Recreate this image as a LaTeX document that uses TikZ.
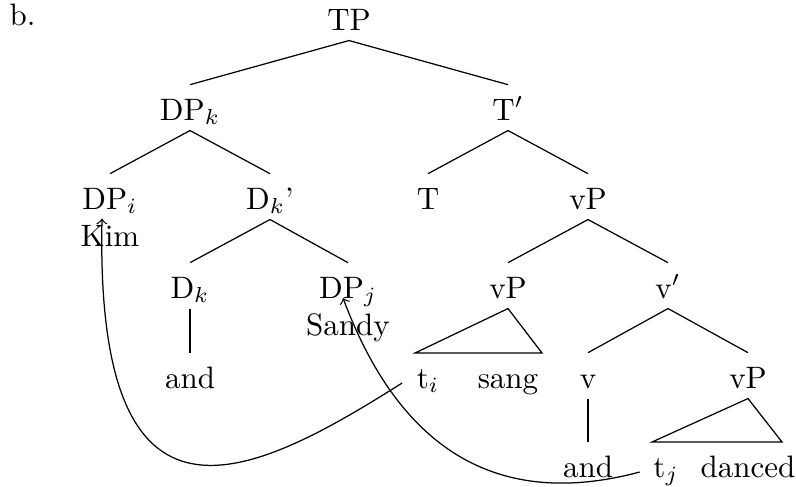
\documentclass[tikz,border=0pt]{standalone}
\usetikzlibrary{calc}
\begin{document}
\begin{tikzpicture}[x=0.3226pt,y=-0.3226pt,
  lab/.style={anchor=base, inner xsep=1pt, inner ysep=3.2pt, text height=8pt, text depth=0pt},
  plain/.style={anchor=base, inner sep=1pt},
  mv/.style={->, line width=0.4pt}]
\useasboundingbox (0,0) rectangle (796,486);
% labels
\node[plain, anchor=base west] (b) at (6,25) {b.};
\node[lab] (TP) at (349,30) {TP};
\node[lab] (DPk) at (190,120) {DP$_k$};
\node[lab] (Tb) at (508,120) {T$'$};
\node[lab] (DPi) at (110,209) {DP$_i$};
\node[plain] (Kim) at (110,246) {Kim};
\node[lab] (Dkb) at (270,209) {D$_k$'};
\node[lab] (T) at (428,209) {T};
\node[lab] (vPa) at (588,209) {vP};
\node[lab] (Dk) at (190,298) {D$_k$};
\node[lab] (DPj) at (348,298) {DP$_j$};
\node[plain] (Sandy) at (348,335) {Sandy};
\node[lab] (vPb) at (508,298) {vP};
\node[lab] (vb) at (668,298) {v$'$};
\node[lab] (and1) at (190,388) {and};
\node[lab] (ti) at (428,388) {t$_i$};
\node[lab] (sang) at (508,388) {sang};
\node[lab] (v) at (588,388) {v};
\node[lab] (vPc) at (748,388) {vP};
\node[lab] (and2) at (588,477) {and};
\node[lab] (tj) at (666,477) {t$_j$};
\node[lab] (danced) at (748,477) {danced};
% roof corners
\coordinate (r1l) at (415,353);
\coordinate (r1r) at (542,353);
\coordinate (r2l) at (652,442);
\coordinate (r2r) at (782,442);
% edges
\draw (TP.south) -- (DPk.north);
\draw (TP.south) -- (Tb.north);
\draw (DPk.south) -- (DPi.north);
\draw (DPk.south) -- (Dkb.north);
\draw (Tb.south) -- (T.north);
\draw (Tb.south) -- (vPa.north);
\draw (Dkb.south) -- (Dk.north);
\draw (Dkb.south) -- (DPj.north);
\draw (vPa.south) -- (vPb.north);
\draw (vPa.south) -- (vb.north);
\draw (Dk.south) -- (and1.north);
\draw (vPb.south) -- (r1l) -- (r1r) -- cycle;
\draw (vb.south) -- (v.north);
\draw (vb.south) -- (vPc.north);
\draw (v.south) -- (and2.north);
\draw (vPc.south) -- (r2l) -- (r2r) -- cycle;
% movement arrows
\draw[mv] ([shift={(-11,-5)}]ti.base west) .. controls +(-153,97) and +(-7,337) .. ([shift={(-8,-1)}]DPi.south);
\draw[mv] ([shift={(-10,-5)}]tj.base west) .. controls +(-142,38) and +(57,152) .. ([shift={(-5,0)}]DPj.base);
\end{tikzpicture}
\end{document}
